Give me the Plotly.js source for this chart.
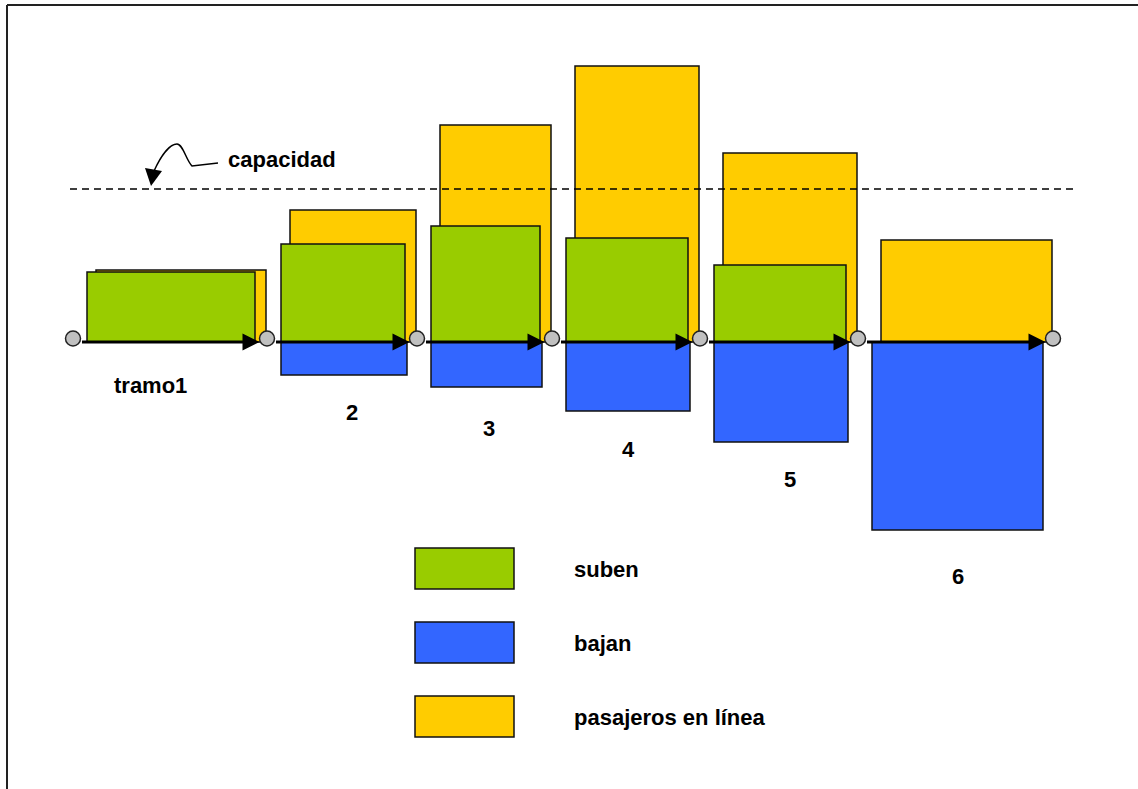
<!DOCTYPE html>
<html>
<head>
<meta charset="utf-8">
<script src="https://cdn.plot.ly/plotly-3.0.1.min.js"></script>
<style>html,body{margin:0;padding:0;background:#fff;}#chart{width:1138px;height:789px;}</style>
</head>
<body>
<div id="chart"></div>
<script>
// ---- data ----
const paradas = [73, 267, 417, 552, 700, 858, 1053];   // stop positions along the route
const tramos = ['tramo1', '2', '3', '4', '5', '6'];
const suben = [70, 98, 116, 104, 77, 0];
const bajan = [0, 33, 45, 69, 100, 188];
const enLinea = [72, 132, 217, 276, 189, 102];
const capacidad = 153;
const leyenda = ['suben', 'bajan', 'pasajeros en línea'];

// ---- styles / geometry ----
const C_GREEN = '#99CC00', C_BLUE = '#3366FF', C_YELLOW = '#FFCC00', C_NODE = '#C0C0C0';
const OUT = '#111';
const FONT = {family: 'Liberation Sans, Arial, sans-serif', size: 22, color: '#000', weight: 'bold'};
const BASE_PX = 342;              // pixel row of the zero line
const Y = py => BASE_PX - py;     // pixel row -> axis value
const inset = {greenL: 14, greenR: 12, yelL: 23, yelR: 1, blueL: 14, blueR: 10};
const labelPos = [[150, 385], [352, 412], [489, 428], [628, 449], [790, 479], [958, 576]];

function barSeries(vals, sign, L, R, color) {
  const x = [], w = [], y = [];
  vals.forEach((v, i) => {
    if (!v) return;
    const l = paradas[i] + L, r = paradas[i + 1] - R;
    x.push((l + r) / 2); w.push(r - l); y.push(sign * v);
  });
  return {type: 'bar', x: x, y: y, width: w, base: 0,
    marker: {color: color, line: {color: OUT, width: 1.5}}, hoverinfo: 'skip', showlegend: false};
}

const traces = [
  barSeries(enLinea, 1, inset.yelL, inset.yelR, C_YELLOW),
  barSeries(suben, 1, inset.greenL, inset.greenR, C_GREEN),
  barSeries(bajan, -1, inset.blueL, inset.blueR, C_BLUE)
];

// arrow shafts
const sx = [], sy = [];
for (let i = 0; i < tramos.length; i++) {
  sx.push(paradas[i] + 9, paradas[i + 1] - 16, null);
  sy.push(0, 0, null);
}
traces.push({type: 'scatter', mode: 'lines', x: sx, y: sy, line: {color: '#000', width: 3},
  hoverinfo: 'skip', showlegend: false});

// nodes
traces.push({type: 'scatter', mode: 'markers', x: paradas, y: paradas.map(() => 3.5),
  marker: {size: 15, color: C_NODE, line: {color: '#222', width: 1.5}},
  hoverinfo: 'skip', showlegend: false});

const shapes = [];
// arrowheads
for (let i = 0; i < tramos.length; i++) {
  const tip = paradas[i + 1] - 7.5;
  shapes.push({type: 'path', xref: 'x', yref: 'y', layer: 'above',
    path: `M${tip},0 L${tip - 17},8.5 L${tip - 17},-8.5 Z`, fillcolor: '#000', line: {width: 0}});
}
// capacity line
shapes.push({type: 'line', xref: 'x', yref: 'y', x0: 70, x1: 1077, y0: capacidad, y1: capacidad,
  line: {color: '#000', width: 1.5, dash: '7px,5px'}});
// capacity pointer
shapes.push({type: 'path', xref: 'x', yref: 'y', layer: 'above',
  path: `M218,${Y(163)} L192,${Y(166)} C186,${Y(160)} 183,${Y(144)} 177,${Y(144)} C169,${Y(144)} 160,${Y(158)} 154,${Y(171)}`,
  line: {color: '#000', width: 1.5}});
shapes.push({type: 'path', xref: 'x', yref: 'y', layer: 'above',
  path: `M151,${Y(186)} L145,${Y(168)} L162,${Y(171)} Z`, fillcolor: '#000', line: {width: 0}});
// frame (left and top)
shapes.push({type: 'line', xref: 'x', yref: 'y', x0: 7, x1: 7, y0: Y(5), y1: Y(789), line: {color: '#222', width: 2}});
shapes.push({type: 'line', xref: 'x', yref: 'y', x0: 7, x1: 1138, y0: Y(5), y1: Y(5), line: {color: '#222', width: 2}});

// legend boxes
const legColors = [C_GREEN, C_BLUE, C_YELLOW];
const legTop = [548, 622, 696];
const annotations = [];
leyenda.forEach((t, i) => {
  shapes.push({type: 'rect', xref: 'x', yref: 'y', x0: 415, x1: 514, y0: Y(legTop[i]), y1: Y(legTop[i] + 41),
    fillcolor: legColors[i], line: {color: OUT, width: 1.5}});
  annotations.push({x: 572, y: Y(legTop[i] + 21), xref: 'x', yref: 'y', text: t, showarrow: false,
    xanchor: 'left', yanchor: 'middle', font: FONT});
});

tramos.forEach((t, i) => {
  annotations.push({x: labelPos[i][0], y: Y(labelPos[i][1]), xref: 'x', yref: 'y', text: t, showarrow: false,
    xanchor: 'center', yanchor: 'middle', font: FONT});
});
annotations.push({x: 226, y: Y(159), xref: 'x', yref: 'y', text: 'capacidad', showarrow: false,
  xanchor: 'left', yanchor: 'middle', font: FONT});

const layout = {
  width: 1138, height: 789,
  margin: {l: 0, r: 0, t: 0, b: 0, pad: 0},
  paper_bgcolor: '#fff', plot_bgcolor: '#fff',
  barmode: 'overlay',
  xaxis: {range: [0, 1138], visible: false, fixedrange: true},
  yaxis: {range: [Y(789), Y(0)], visible: false, fixedrange: true},
  shapes: shapes, annotations: annotations, showlegend: false, hovermode: false
};
Plotly.newPlot('chart', traces, layout, {staticPlot: true, displayModeBar: false});
</script>
</body>
</html>
